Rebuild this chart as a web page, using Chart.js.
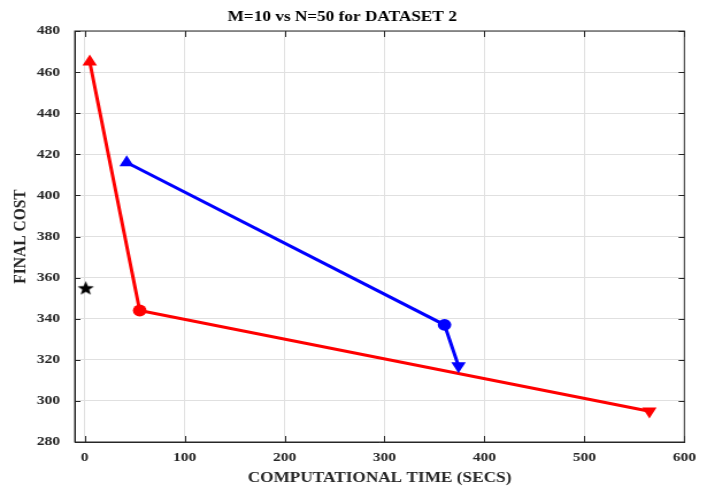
<!DOCTYPE html>
<html>
<head>
<meta charset="utf-8">
<script src="https://cdn.jsdelivr.net/npm/chart.js@4/dist/chart.umd.min.js"></script>
<style>
  html, body { margin: 0; padding: 0; background: #ffffff; overflow: hidden; }
  /* the source figure is a bit wider than tall in its lettering, so the
     chart is drawn narrower and stretched back out to 707px */
  #wrap { width: 615px; height: 489px; transform: scaleX(1.14959); transform-origin: 0 0; }
</style>
</head>
<body>
<div id="wrap"><canvas id="myChart"></canvas></div>
<script>
// values
const redTime = [5, 55, 565];
const redCost = [465, 344, 295];
const blueTime = [42, 360, 374];
const blueCost = [416, 337, 317];
const starTime = [1];
const starCost = [355];

const xTicks = [0, 100, 200, 300, 400, 500, 600];
const yTicks = [280, 300, 320, 340, 360, 380, 400, 420, 440, 460, 480];

const toPoints = (xs, ys) => xs.map((x, i) => ({ x: x, y: ys[i] }));

// filled five point star for the black marker
const makeStar = (size, color) => {
    const c = document.createElement('canvas');
    c.width = size; c.height = size;
    const g = c.getContext('2d');
    const cx = size / 2, cy = size / 2 + 0.8;
    const outer = size / 2, inner = outer * 0.42;
    g.beginPath();
    for (let i = 0; i < 10; i++) {
        const r = i % 2 === 0 ? outer : inner;
        const a = -Math.PI / 2 + i * Math.PI / 5;
        g.lineTo(cx + Math.cos(a) * r, cy + Math.sin(a) * r);
    }
    g.closePath();
    g.fillStyle = color;
    g.fill();
    return c;
};

const textColor = '#262626';
const serif = "'Liberation Serif', 'Times New Roman', serif";

// box round the plot and the inward tick marks
const boxPlugin = {
    id: 'box',
    afterDatasetsDraw(chart) {
        const { ctx, chartArea, scales } = chart;
        ctx.save();
        ctx.strokeStyle = textColor;
        ctx.lineWidth = 1;
        ctx.beginPath();
        xTicks.forEach(v => {
            const px = Math.round(scales.x.getPixelForValue(v)) + 0.5;
            ctx.moveTo(px, chartArea.bottom); ctx.lineTo(px, chartArea.bottom - 6);
            ctx.moveTo(px, chartArea.top); ctx.lineTo(px, chartArea.top + 6);
        });
        yTicks.forEach(v => {
            const py = Math.round(scales.y.getPixelForValue(v)) + 0.5;
            ctx.moveTo(chartArea.left, py); ctx.lineTo(chartArea.left + 5, py);
            ctx.moveTo(chartArea.right, py); ctx.lineTo(chartArea.right - 5, py);
        });
        ctx.stroke();
        ctx.strokeRect(chartArea.left, chartArea.top, chartArea.right - chartArea.left, chartArea.bottom - chartArea.top);
        ctx.restore();
    }
};

const ctx = document.getElementById('myChart');

new Chart(ctx, {
    type: 'scatter',
    data: {
        datasets: [
            {
                label: 'M=10',
                data: toPoints(blueTime, blueCost),
                showLine: true,
                borderColor: '#0000ff',
                backgroundColor: '#0000ff',
                borderWidth: 3,
                pointStyle: ['triangle', 'circle', 'triangle'],
                pointRadius: [7.3, 5.9, 7.3],
                pointRotation: [0, 0, 180],
                pointBorderWidth: 0
            },
            {
                label: 'N=50',
                data: toPoints(redTime, redCost),
                showLine: true,
                borderColor: '#ff0000',
                backgroundColor: '#ff0000',
                borderWidth: 3,
                pointStyle: ['triangle', 'circle', 'triangle'],
                pointRadius: [7.3, 5.9, 7.3],
                pointRotation: [0, 0, 180],
                pointBorderWidth: 0
            },
            {
                label: 'ref',
                data: toPoints(starTime, starCost),
                showLine: false,
                pointStyle: makeStar(15, '#000000'),
                pointRadius: 7.5
            }
        ]
    },
    options: {
        responsive: true,
        maintainAspectRatio: false,
        animation: false,
        layout: { padding: { left: 0, right: 19.7, top: 0, bottom: 0 } },
        plugins: {
            legend: { display: false },
            tooltip: { enabled: false },
            title: {
                display: true,
                text: 'M=10 vs N=50 for DATASET 2',
                color: '#000000',
                font: { family: serif, size: 15, weight: 'bold' },
                padding: { top: 8.5, bottom: 4.5 }
            }
        },
        scales: {
            x: {
                type: 'linear',
                min: -10,
                max: 600,
                afterFit: (scale) => { scale.height = 47; },
                afterBuildTicks: (scale) => { scale.ticks = xTicks.map(v => ({ value: v })); },
                ticks: {
                    color: textColor,
                    padding: 7,
                    font: { family: serif, size: 13.5, weight: 'bold' }
                },
                grid: { color: '#e0e0e0', drawTicks: false },
                border: { color: textColor, width: 1 },
                title: {
                    display: true,
                    text: 'COMPUTATIONAL TIME (SECS)',
                    color: textColor,
                    font: { family: serif, size: 15, weight: 'bold' },
                    padding: { top: 2, bottom: 1.5 }
                }
            },
            y: {
                type: 'linear',
                min: 280,
                max: 480,
                afterFit: (scale) => { scale.width = 65; },
                afterBuildTicks: (scale) => { scale.ticks = yTicks.map(v => ({ value: v })); },
                ticks: {
                    color: textColor,
                    padding: 12.8,
                    font: { family: serif, size: 13.5, weight: 'bold' }
                },
                grid: { color: '#e0e0e0', drawTicks: false },
                border: { color: textColor, width: 1 },
                title: {
                    display: true,
                    text: 'FINAL COST',
                    color: textColor,
                    font: { family: serif, size: 15.5, weight: 'bold' },
                    padding: { top: 9, bottom: 0 }
                }
            }
        }
    },
    plugins: [boxPlugin]
});
</script>
</body>
</html>
